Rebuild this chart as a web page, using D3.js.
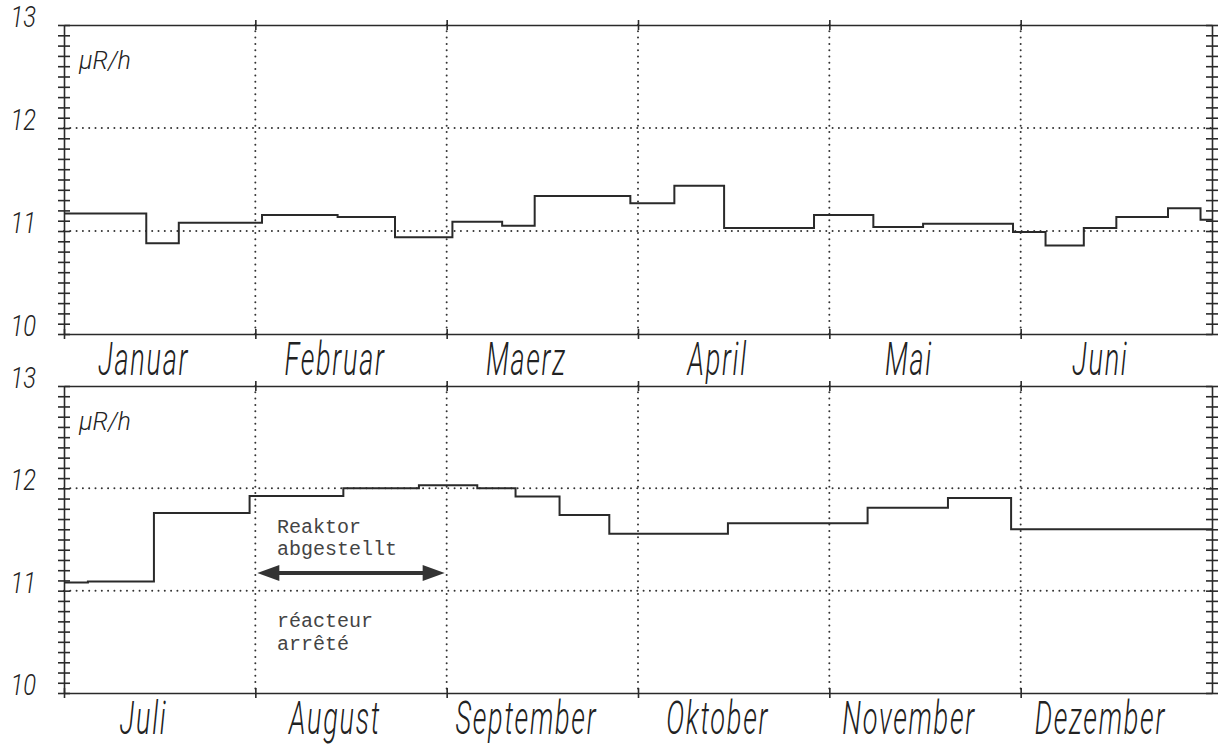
<!DOCTYPE html>
<html lang="de">
<head>
<meta charset="utf-8">
<title>Ortsdosisleistung</title>
<script src="https://cdn.jsdelivr.net/npm/d3@7"></script>
<style>
  body { margin: 0; background: #fff; }
  svg { display: block; }
  .frame path.domain { stroke: #2a2a2a; stroke-width: 1.6; }
  .frame .tick line { stroke: #2a2a2a; stroke-width: 1.6; }
  .grid { stroke: #333; stroke-width: 2; stroke-dasharray: 0,6.3; stroke-linecap: round; }
  .ylab { font-family: Roboto, "DejaVu Sans"; font-style: italic; font-weight: 300; font-size: 29px; fill: #222;
          font-variant-numeric: slashed-zero; }
  .mlab { font-family: Roboto, "DejaVu Sans"; font-style: italic; font-weight: 300;
          font-size: 32px; letter-spacing: 2px; fill: #222; }
  .unit { font-family: Roboto, "DejaVu Sans"; font-style: italic; font-weight: 300; font-size: 25px; fill: #222; }
  .note { font-family: "Liberation Mono", "DejaVu Sans Mono", monospace; font-size: 20px; fill: #444; }
</style>
</head>
<body>
<div id="chart"></div>
<script>
// months of each half year
var months1 = ["Januar", "Februar", "Maerz", "April", "Mai", "Juni"];
var months2 = ["Juli", "August", "September", "Oktober", "November", "Dezember"];
var yLabels = [10, 11, 12, 13];

// step borders (in months from start of the half year) and value of each step in µR/h
var breaks1 = [0, 0.43, 0.60, 1.035, 1.43, 1.73, 2.03, 2.29, 2.46, 2.96, 3.19, 3.45, 3.92,
               4.23, 4.49, 4.96, 5.13, 5.33, 5.50, 5.77, 5.94, 6];
var values1 = [11.17, 10.88, 11.08, 11.155, 11.135, 10.94, 11.09, 11.05, 11.34, 11.27, 11.44,
               11.03, 11.155, 11.04, 11.07, 10.99, 10.86, 11.03, 11.135, 11.22, 11.11];
var breaks2 = [0, 0.125, 0.47, 0.97, 1.46, 1.855, 2.16, 2.36, 2.59, 2.85, 3.47, 4.20, 4.62, 4.95, 6];
var values2 = [11.08, 11.09, 11.76, 11.925, 12.00, 12.03, 12.00, 11.92, 11.74, 11.555, 11.66,
               11.81, 11.905, 11.60];

// reactor shutdown (months in second half year)
var shutdown = [1, 2];

var W = 1224, H = 753;
var svg = d3.select("#chart").append("svg")
    .attr("width", W)
    .attr("height", H);

var x = d3.scaleLinear().domain([0, 6]).range([64, 1212]);
var minor = d3.range(100, 131).map(function(d) { return d / 10; });

function panel(top, bottom, months, breaks, values) {
  var y = d3.scaleLinear().domain([10, 13]).range([bottom, top]);
  var g = svg.append("g");

  // dotted grid
  g.selectAll("line.gv")
    .data([1, 2, 3, 4, 5])
    .enter().append("line")
      .attr("class", "grid")
      .attr("x1", function(d) { return x(d); })
      .attr("x2", function(d) { return x(d); })
      .attr("y1", top)
      .attr("y2", bottom);
  g.selectAll("line.gh")
    .data([11, 12])
    .enter().append("line")
      .attr("class", "grid")
      .attr("x1", x(0))
      .attr("x2", x(6))
      .attr("y1", function(d) { return y(d); })
      .attr("y2", function(d) { return y(d); });

  // frame with crossing ticks
  var left = g.append("g").attr("class", "frame")
    .attr("transform", "translate(" + x(0) + ",0)")
    .call(d3.axisLeft(y).tickValues(minor).tickSize(6).tickSizeOuter(0).tickFormat(""));
  left.selectAll(".tick line").attr("x1", 6);
  var right = g.append("g").attr("class", "frame")
    .attr("transform", "translate(" + x(6) + ",0)")
    .call(d3.axisRight(y).tickValues(minor).tickSize(6).tickSizeOuter(0).tickFormat(""));
  right.selectAll(".tick line").attr("x1", -6);
  var topAx = g.append("g").attr("class", "frame")
    .attr("transform", "translate(0," + top + ")")
    .call(d3.axisTop(x).tickValues([1, 2, 3, 4, 5]).tickSize(5).tickSizeOuter(0).tickFormat(""));
  topAx.selectAll(".tick line").attr("y1", 5);
  var botAx = g.append("g").attr("class", "frame")
    .attr("transform", "translate(0," + bottom + ")")
    .call(d3.axisBottom(x).tickValues([0, 1, 2, 3, 4, 5]).tickSize(5).tickSizeOuter(0).tickFormat(""));
  botAx.selectAll(".tick line").attr("y1", -5);
  g.selectAll("text").remove();

  // y labels
  g.selectAll("text.ylab")
    .data(yLabels)
    .enter().append("text")
      .attr("class", "ylab")
      .attr("text-anchor", "end")
      .attr("transform", function(d) { return "translate(36," + (y(d) + 2) + ") scale(0.82,1)"; })
      .text(function(d) { return d; });

  g.append("text")
    .attr("class", "unit")
    .attr("x", 79)
    .attr("y", top + 44)
    .text("\u00b5R/h");

  // month labels
  g.selectAll("text.mlab")
    .data(months)
    .enter().append("text")
      .attr("class", "mlab")
      .attr("text-anchor", "middle")
      .attr("transform", function(d, i) {
        return "translate(" + (x(i + 0.5) - 16) + "," + (bottom + 41) + ") scale(0.85,1.42)";
      })
      .text(function(d) { return d; });

  // step line
  var pts = values.map(function(v, i) { return [breaks[i], v]; });
  pts.push([breaks[breaks.length - 1], values[values.length - 1]]);
  g.append("path")
    .datum(pts)
    .attr("fill", "none")
    .attr("stroke", "#2a2a2a")
    .attr("stroke-width", 2)
    .attr("d", d3.line()
      .x(function(d) { return x(d[0]); })
      .y(function(d) { return y(d[1]); })
      .curve(d3.curveStepAfter));

  return y;
}

var y1 = panel(25, 334, months1, breaks1, values1);
var y2 = panel(386, 693, months2, breaks2, values2);

// shutdown arrow
var ay = 573, ax0 = x(shutdown[0]) + 2, ax1 = x(shutdown[1]) - 2;
svg.append("line")
  .attr("x1", ax0 + 15).attr("x2", ax1 - 15)
  .attr("y1", ay).attr("y2", ay)
  .attr("stroke", "#333").attr("stroke-width", 4);
svg.append("path")
  .attr("fill", "#333")
  .attr("d", "M" + ax0 + "," + ay + "L" + (ax0 + 22) + "," + (ay - 8) + "L" + (ax0 + 22) + "," + (ay + 8) + "Z" +
             "M" + ax1 + "," + ay + "L" + (ax1 - 22) + "," + (ay - 8) + "L" + (ax1 - 22) + "," + (ay + 8) + "Z");

var notes = [["Reaktor", 533], ["abgestellt", 555], ["r\u00e9acteur", 627], ["arr\u00eat\u00e9", 650]];
svg.selectAll("text.note")
  .data(notes)
  .enter().append("text")
    .attr("class", "note")
    .attr("x", 277)
    .attr("y", function(d) { return d[1]; })
    .text(function(d) { return d[0]; });
</script>
</body>
</html>
